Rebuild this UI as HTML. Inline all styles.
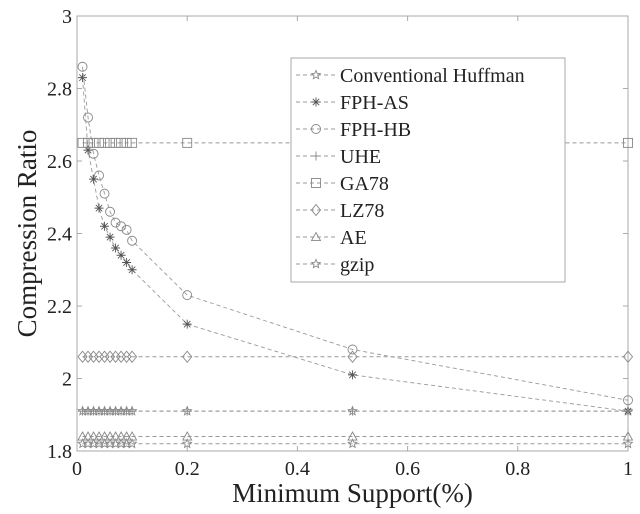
<!DOCTYPE html>
<html><head><meta charset="utf-8"><style>
body{margin:0;background:#fff}
svg text{font-family:"Liberation Serif",serif;fill:#222}
</style></head><body>
<svg id="chart" width="640" height="509" viewBox="0 0 640 509" xmlns="http://www.w3.org/2000/svg"></svg>
<script>
const xValues=[0.01,0.02,0.03,0.04,0.05,0.06,0.07,0.08,0.09,0.1,0.2,0.5,1];
const seriesNames=["Conventional Huffman","FPH-AS","FPH-HB","UHE","GA78","LZ78","AE","gzip"];
const seriesMarkers=["star","asterisk","circle","plus","square","diamond","triangle","star"];
const huffmanValues=[1.91,1.91,1.91,1.91,1.91,1.91,1.91,1.91,1.91,1.91,1.91,1.91,1.91];
const fphAsValues=[2.83,2.63,2.55,2.47,2.42,2.39,2.36,2.34,2.32,2.30,2.15,2.01,1.91];
const fphHbValues=[2.86,2.72,2.62,2.56,2.51,2.46,2.43,2.42,2.41,2.38,2.23,2.08,1.94];
const uheValues=[1.91,1.91,1.91,1.91,1.91,1.91,1.91,1.91,1.91,1.91,1.91,1.91,1.91];
const ga78Values=[2.65,2.65,2.65,2.65,2.65,2.65,2.65,2.65,2.65,2.65,2.65,2.65,2.65];
const lz78Values=[2.06,2.06,2.06,2.06,2.06,2.06,2.06,2.06,2.06,2.06,2.06,2.06,2.06];
const aeValues=[1.84,1.84,1.84,1.84,1.84,1.84,1.84,1.84,1.84,1.84,1.84,1.84,1.84];
const gzipValues=[1.82,1.82,1.82,1.82,1.82,1.82,1.82,1.82,1.82,1.82,1.82,1.82,1.82];
const xTicks=[0,0.2,0.4,0.6,0.8,1];
const xTickLabels=["0","0.2","0.4","0.6","0.8","1"];
const yTicks=[1.8,2,2.2,2.4,2.6,2.8,3];
const yTickLabels=["1.8","2","2.2","2.4","2.6","2.8","3"];

const allSeries=[huffmanValues,fphAsValues,fphHbValues,uheValues,ga78Values,lz78Values,aeValues,gzipValues];
const L=77,R=628,T=16,B=451;
const sx=v=>L+(v-0)/(1-0)*(R-L);
const sy=v=>B-(v-1.8)/(3-1.8)*(B-T);
const svg=document.getElementById('chart');
const NS="http://www.w3.org/2000/svg";
function mk(tag,attrs,parent){const e=document.createElementNS(NS,tag);for(const k in attrs)e.setAttribute(k,attrs[k]);(parent||svg).appendChild(e);return e;}
const C="#888";
function marker(type,x,y,g){
  const s=4.5,st={stroke:C,fill:"none","stroke-width":0.9};
  if(type==="circle")mk('circle',Object.assign({cx:x,cy:y,r:s},st),g);
  else if(type==="square")mk('rect',Object.assign({x:x-s,y:y-s,width:2*s,height:2*s},st),g);
  else if(type==="diamond")mk('path',Object.assign({d:`M${x},${y-s-1}L${x+s},${y}L${x},${y+s+1}L${x-s},${y}Z`},st),g);
  else if(type==="triangle")mk('path',Object.assign({d:`M${x},${y-s}L${x+s},${y+s*0.8}L${x-s},${y+s*0.8}Z`},st),g);
  else if(type==="plus")mk('path',Object.assign({d:`M${x-s},${y}H${x+s}M${x},${y-s}V${y+s}`},st),g);
  else if(type==="asterisk")mk('path',Object.assign({d:`M${x-s},${y}H${x+s}M${x},${y-s}V${y+s}M${x-3.2},${y-3.2}L${x+3.2},${y+3.2}M${x-3.2},${y+3.2}L${x+3.2},${y-3.2}`},Object.assign({},st,{stroke:"#555"})),g);
  else if(type==="star"){let d="";for(let i=0;i<10;i++){const r=i%2?s*0.45:s;const a=-Math.PI/2+i*Math.PI/5;d+=(i?"L":"M")+(x+r*Math.cos(a)).toFixed(2)+","+(y+r*Math.sin(a)).toFixed(2);}mk('path',Object.assign({d:d+"Z"},st),g);}
}
// axes box
mk('rect',{x:L,y:T,width:R-L,height:B-T,fill:"none",stroke:"#aaa","stroke-width":1,});
xTicks.forEach((t,i)=>{const x=sx(t);
  mk('line',{x1:x,y1:B,x2:x,y2:B-5,stroke:"#aaa"});mk('line',{x1:x,y1:T,x2:x,y2:T+5,stroke:"#aaa"});
  const tx=mk('text',{x:x,y:B+24,"text-anchor":"middle","font-size":20,});tx.textContent=xTickLabels[i];});
yTicks.forEach((t,i)=>{const y=sy(t);
  mk('line',{x1:L,y1:y,x2:L+5,y2:y,stroke:"#aaa"});mk('line',{x1:R,y1:y,x2:R-5,y2:y,stroke:"#aaa"});
  const tx=mk('text',{x:L-5,y:y+7,"text-anchor":"end","font-size":20,});tx.textContent=yTickLabels[i];});
const xt=mk('text',{x:(L+R)/2,y:502,"text-anchor":"middle","font-size":27,});xt.textContent="Minimum Support(%)";
const yt=mk('text',{x:0,y:0,transform:`translate(36,${(T+B)/2}) rotate(-90)`,"text-anchor":"middle","font-size":27,});yt.textContent="Compression Ratio";
// series
allSeries.forEach((vals,si)=>{
  const g=mk('g',{});
  
  
  mk('polyline',{points:vals.map((v,i)=>sx(xValues[i])+","+sy(v)).join(" "),fill:"none",stroke:"#999","stroke-width":0.9,"stroke-dasharray":"4,3"},g);
  vals.forEach((v,i)=>marker(seriesMarkers[si],sx(xValues[i]),sy(v),g));
});
// legend
const lg=mk('g',{});


mk('rect',{x:291,y:58,width:274,height:224,fill:"#fff",stroke:"#aaa"},lg);
seriesNames.forEach((n,i)=>{const y=75+i*27;
  const e=mk('g',{},lg);
  
  
  mk('line',{x1:296,y1:y,x2:335,y2:y,stroke:"#999","stroke-dasharray":"4,3"},e);
  marker(seriesMarkers[i],316,y,e);
  const t=mk('text',{x:340,y:y+7,"font-size":20},e);t.textContent=n;});
</script>
</body></html>
